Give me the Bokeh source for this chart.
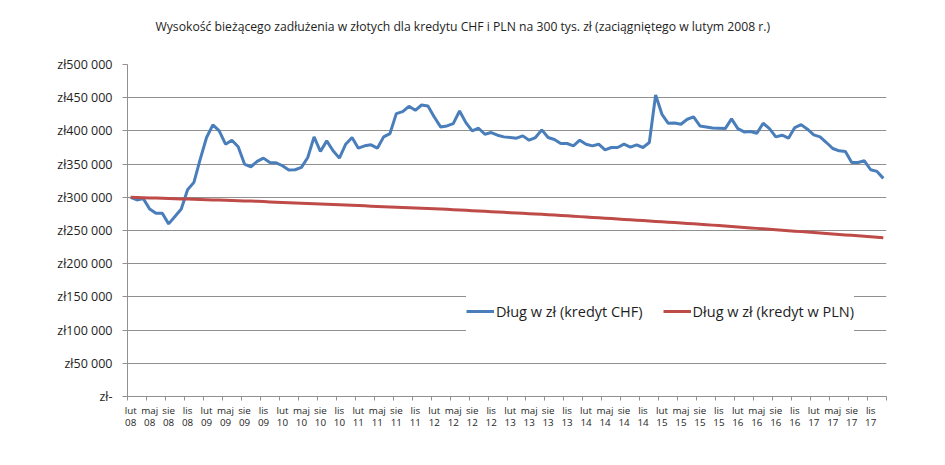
from bokeh.plotting import figure
from bokeh.models import Range1d, FixedTicker, Legend, LegendItem, LinearAxis
from bokeh.embed import file_html
from bokeh.resources import INLINE

title_text = "Wysokość bieżącego zadłużenia w złotych dla kredytu CHF i PLN na 300 tys. zł (zaciągniętego w lutym 2008 r.)"
series_names = ["Dług w zł (kredyt CHF)", "Dług w zł (kredyt w PLN)"]

month_names = ["lut", "maj", "sie", "lis"]
year_names = ["08", "09", "10", "11", "12", "13", "14", "15", "16", "17"]

y_ticks = [0, 50000, 100000, 150000, 200000, 250000, 300000, 350000, 400000, 450000, 500000]
y_tick_labels = ["zł-", "zł50 000", "zł100 000", "zł150 000", "zł200 000", "zł250 000",
                 "zł300 000", "zł350 000", "zł400 000", "zł450 000", "zł500 000"]

# monthly values, Feb 2008 .. Jan 2018 (thousands of zł)
chf_k = [300, 296, 298, 282.5, 276, 276, 260, 271, 282.5, 311.5,
         322.5, 357.5, 390, 409, 400, 380, 386, 376, 350, 346,
         354, 359, 352.5, 352, 347.5, 341, 341.5, 345, 360, 391,
         369, 385, 370, 359, 380, 390, 374, 377.5, 379, 374,
         391, 396, 426, 429, 437, 431, 439, 437.5, 421, 406,
         407.5, 411, 430, 412.5, 400, 404, 395, 397.5, 393.5, 391,
         390, 389, 392.5, 386, 390, 401.5, 390, 387, 381, 381,
         377.5, 386, 380, 377.5, 380, 371.5, 375, 375, 380, 375.5,
         379, 375, 382.5, 454, 425, 411.5, 412, 410, 417.5, 421,
         407.5, 406, 404.5, 404, 403.5, 418, 403.5, 398.5, 399, 396.5,
         411.5, 403.5, 391, 393.5, 389, 405, 409.5, 402.5, 394, 391,
         382.5, 373.5, 370, 369, 352.5, 352.5, 355, 341.5, 339, 328.5]

pln_k = [300, 299.7, 299.4, 299.1, 298.8, 298.5, 298.2, 297.9, 297.6, 297.3,
         297.0, 296.7, 296.4, 296.1, 295.8, 295.5, 295.2, 294.9, 294.6, 294.3,
         293.9, 293.5, 293.1, 292.7, 292.3, 291.9, 291.5, 291.1, 290.7, 290.3,
         289.9, 289.5, 289.1, 288.7, 288.3, 287.9, 287.5, 287.1, 286.7, 286.3,
         285.9, 285.5, 285.1, 284.7, 284.3, 283.9, 283.5, 283.1, 282.7, 282.3,
         281.9, 281.4, 280.9, 280.4, 279.9, 279.4, 278.9, 278.4, 277.9, 277.4,
         276.9, 276.4, 275.9, 275.4, 274.9, 274.4, 273.9, 273.3, 272.7, 272.1,
         271.5, 270.9, 270.3, 269.7, 269.1, 268.5, 267.9, 267.3, 266.7, 266.1,
         265.5, 264.9, 264.3, 263.7, 263.1, 262.5, 261.9, 261.3, 260.7, 260.1,
         259.5, 258.8, 258.1, 257.4, 256.7, 256.0, 255.3, 254.6, 253.9, 253.2,
         252.5, 251.8, 251.1, 250.4, 249.7, 249.0, 248.3, 247.6, 246.9, 246.2,
         245.5, 244.8, 244.1, 243.4, 242.7, 242.0, 241.3, 240.6, 239.9, 239.2]

chf = [v * 1000 for v in chf_k]
pln = [v * 1000 for v in pln_k]
x = list(range(len(chf)))

FONT = "Open Sans"
TXT = "#1e1e1e"
GRID = "#909090"

p = figure(width=929, height=449, x_range=Range1d(-0.5, len(chf) - 0.5),
           y_range=Range1d(0, 500000), output_backend="svg", toolbar_location=None,
           min_border_left=127, min_border_right=43, min_border_top=64, min_border_bottom=53)
p.outline_line_color = None
p.background_fill_color = "white"
p.border_fill_color = "white"
p.xgrid.visible = False
p.ygrid.grid_line_color = GRID
p.ygrid.grid_line_width = 1

# invisible spacer between the frame and the title (one hidden tick, no label)
spacer = LinearAxis(ticker=FixedTicker(ticks=[0]), major_label_overrides={0: ""},
                    axis_line_color=None, major_tick_line_color=None, minor_tick_line_color=None,
                    major_tick_out=25, major_tick_in=0, minor_tick_out=0, minor_tick_in=0,
                    major_label_standoff=0, major_label_text_font_size="1px")
p.add_layout(spacer, "above")

p.title.text = title_text
p.title.align = "left"
p.title.offset = 28
p.title.standoff = 10
p.title.text_font = FONT
p.title.text_font_size = "12.2px"
p.title.text_font_style = "normal"
p.title.text_color = TXT

# y axis
p.yaxis.ticker = FixedTicker(ticks=y_ticks)
p.yaxis.major_label_overrides = {t: l for t, l in zip(y_ticks, y_tick_labels)}
p.yaxis.axis_line_color = GRID
p.yaxis.major_tick_line_color = GRID
p.yaxis.major_tick_out = 5
p.yaxis.major_tick_in = 0
p.yaxis.minor_tick_line_color = None
p.yaxis.major_label_standoff = 10
p.yaxis.major_label_text_font = FONT
p.yaxis.major_label_text_font_size = "12.5px"
p.yaxis.major_label_text_color = TXT

# x axis: labels every 3 months, tick marks at category boundaries
xax = p.below[0]
label_pos = list(range(0, len(chf), 3))
labels = [m + "\n" + y for y in year_names for m in month_names]
xax.ticker = FixedTicker(ticks=label_pos, minor_ticks=[i - 0.5 for i in label_pos] + [len(chf) - 0.5])
xax.major_label_overrides = {t: l for t, l in zip(label_pos, labels)}
xax.axis_line_color = GRID
xax.major_tick_line_color = None
xax.major_tick_out = 0
xax.major_tick_in = 0
xax.minor_tick_line_color = GRID
xax.minor_tick_out = 4
xax.minor_tick_in = 0
xax.major_label_standoff = 3
xax.major_label_text_font = FONT
xax.major_label_text_font_size = "9.8px"
xax.major_label_text_line_height = 0.95
xax.major_label_text_color = TXT

r1 = p.line(x, chf, line_color="#4A7EBB", line_width=3)
r2 = p.line(x, pln, line_color="#BE4B48", line_width=3)

legend = Legend(items=[LegendItem(label=series_names[0], renderers=[r1]),
                       LegendItem(label=series_names[1], renderers=[r2])],
                location=(339, 65), orientation="horizontal")
legend.border_line_color = None
legend.background_fill_color = "white"
legend.background_fill_alpha = 1
legend.padding = 15
legend.margin = 0
legend.spacing = 20
legend.glyph_width = 28
legend.glyph_height = 40
legend.label_height = 40
legend.label_standoff = 2
legend.label_text_font = FONT
legend.label_text_font_size = "14.5px"
legend.label_text_color = TXT
p.add_layout(legend, "center")

open("out.html", "w").write(file_html(p, INLINE))
